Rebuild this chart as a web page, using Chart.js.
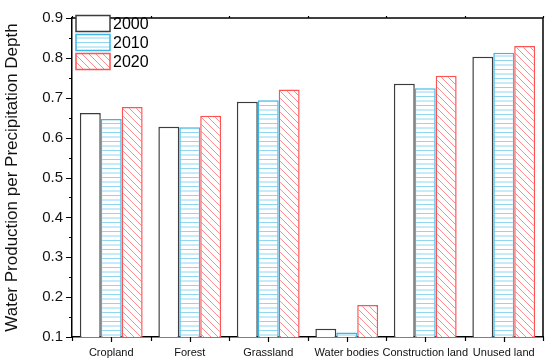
<!DOCTYPE html>
<html>
<head>
<meta charset="utf-8">
<script src="https://cdn.jsdelivr.net/npm/chart.js@4.4.1/dist/chart.umd.min.js"></script>
<style>
  html, body { margin: 0; padding: 0; background: #fff; }
  #wrap { width: 550px; height: 362px; }
</style>
</head>
<body>
<div id="wrap"><canvas id="chart" width="550" height="362"></canvas></div>
<script>
// Chart data
const categories = ['Cropland', 'Forest', 'Grassland', 'Water bodies', 'Construction land', 'Unused land'];
const years = ['2000', '2010', '2020'];
const values2000 = [0.662, 0.627, 0.690, 0.121, 0.735, 0.803];
const values2010 = [0.647, 0.626, 0.694, 0.111, 0.724, 0.813];
const values2020 = [0.677, 0.655, 0.721, 0.180, 0.755, 0.830];
const yTicks = [0.1, 0.2, 0.3, 0.4, 0.5, 0.6, 0.7, 0.8, 0.9];

// Fill patterns
function makeTile(w, h, draw) {
    const c = document.createElement('canvas');
    c.width = w; c.height = h;
    const ctx = c.getContext('2d');
    ctx.fillStyle = '#fff';
    ctx.fillRect(0, 0, w, h);
    draw(ctx);
    return ctx.createPattern(c, 'repeat');
}

const horizPattern = makeTile(9, 9, ctx => {
    ctx.strokeStyle = '#8fd6f0';
    ctx.lineWidth = 1;
    ctx.beginPath();
    ctx.moveTo(0, 2); ctx.lineTo(9, 2);
    ctx.moveTo(0, 6.5); ctx.lineTo(9, 6.5);
    ctx.stroke();
});

const diagPattern = makeTile(7, 7, ctx => {
    ctx.strokeStyle = '#ff8c8c';
    ctx.lineWidth = 1;
    ctx.beginPath();
    ctx.moveTo(-1, -1); ctx.lineTo(8, 8);
    ctx.moveTo(6, -1); ctx.lineTo(8, 1);
    ctx.moveTo(-1, 6); ctx.lineTo(1, 8);
    ctx.stroke();
});

const fills = ['#ffffff', horizPattern, diagPattern];
const borders = ['#3c3c3c', '#3cb6e6', '#ff5252'];
const seriesValues = [values2000, values2010, values2020];

// Frame, ticks and the in-plot legend
const framePlugin = {
    id: 'frame',
    afterDraw(chart) {
        const ctx = chart.ctx;
        const a = chart.chartArea;
        const x = chart.scales.x;
        const y = chart.scales.y;
        ctx.save();
        ctx.strokeStyle = '#000';
        ctx.lineWidth = 1.5;
        ctx.beginPath();
        ctx.moveTo(a.left, a.top); ctx.lineTo(a.right, a.top);
        ctx.lineTo(a.right, a.bottom);
        ctx.stroke();

        ctx.lineWidth = 1.2;
        ctx.beginPath();
        // y major and minor ticks
        yTicks.forEach(v => {
            const py = Math.round(y.getPixelForValue(v)) + 0.5;
            ctx.moveTo(a.left - 6, py); ctx.lineTo(a.left, py);
        });
        for (let i = 0; i < yTicks.length - 1; i++) {
            const py = Math.round(y.getPixelForValue(yTicks[i] + 0.05)) + 0.5;
            ctx.moveTo(a.left - 3, py); ctx.lineTo(a.left, py);
        }
        // x ticks at centres and boundaries
        const step = (a.right - a.left) / categories.length;
        for (let i = 0; i <= categories.length; i++) {
            const px = Math.round(a.left + i * step) + 0.5;
            ctx.moveTo(px, a.bottom); ctx.lineTo(px, a.bottom + 4);
            ctx.moveTo(px, a.top); ctx.lineTo(px, a.top - 2);
        }
        categories.forEach((c, i) => {
            const px = Math.round(x.getPixelForValue(i)) + 0.5;
            ctx.moveTo(px, a.bottom); ctx.lineTo(px, a.bottom + 5);
        });
        ctx.stroke();

        // legend
        ctx.font = '16px Arial, "Liberation Sans", sans-serif';
        ctx.textBaseline = 'middle';
        ctx.textAlign = 'left';
        years.forEach((yr, i) => {
            const bx = 76, by = 15.5 + i * 19, bw = 34, bh = 16;
            ctx.fillStyle = fills[i];
            ctx.fillRect(bx, by, bw, bh);
            ctx.strokeStyle = borders[i];
            ctx.lineWidth = 1.5;
            ctx.strokeRect(bx, by, bw, bh);
            ctx.fillStyle = '#000';
            ctx.fillText(yr, 113, by + bh / 2 + 1);
        });
        ctx.restore();
    }
};

const datasets = years.map((yr, i) => ({
    label: yr,
    data: seriesValues[i],
    backgroundColor: fills[i],
    borderColor: borders[i],
    borderWidth: 1.5,
    borderSkipped: 'start'
}));

new Chart(document.getElementById('chart'), {
    type: 'bar',
    data: { labels: categories, datasets: datasets },
    plugins: [framePlugin],
    options: {
        responsive: false,
        animation: false,
        layout: { padding: { top: 13, right: 7, left: 0, bottom: 0 } },
        plugins: {
            legend: { display: false },
            tooltip: { enabled: false }
        },
        datasets: {
            bar: { categoryPercentage: 0.8, barPercentage: 1.0 }
        },
        scales: {
            x: {
                grid: { display: false, drawTicks: false },
                border: { display: true, color: '#000', width: 1.5 },
                ticks: {
                    color: '#111',
                    font: { family: 'Arial, "Liberation Sans", sans-serif', size: 11 },
                    padding: 9,
                    maxRotation: 0,
                    autoSkip: false
                },
                afterFit(scale) { scale.height = 25; }
            },
            y: {
                min: 0.1,
                max: 0.9,
                grid: { display: false, drawTicks: false },
                border: { display: true, color: '#000', width: 1.5 },
                ticks: {
                    stepSize: 0.1,
                    color: '#111',
                    font: { family: 'Arial, "Liberation Sans", sans-serif', size: 15 },
                    padding: 9,
                    callback: v => Number(v).toFixed(1)
                },
                title: {
                    display: true,
                    text: 'Water Production per Precipitation Depth',
                    color: '#111',
                    font: { family: 'Arial, "Liberation Sans", sans-serif', size: 17 },
                    padding: { top: 2, bottom: 0 }
                },
                afterFit(scale) { scale.width = 72; }
            }
        }
    }
});
</script>
</body>
</html>
